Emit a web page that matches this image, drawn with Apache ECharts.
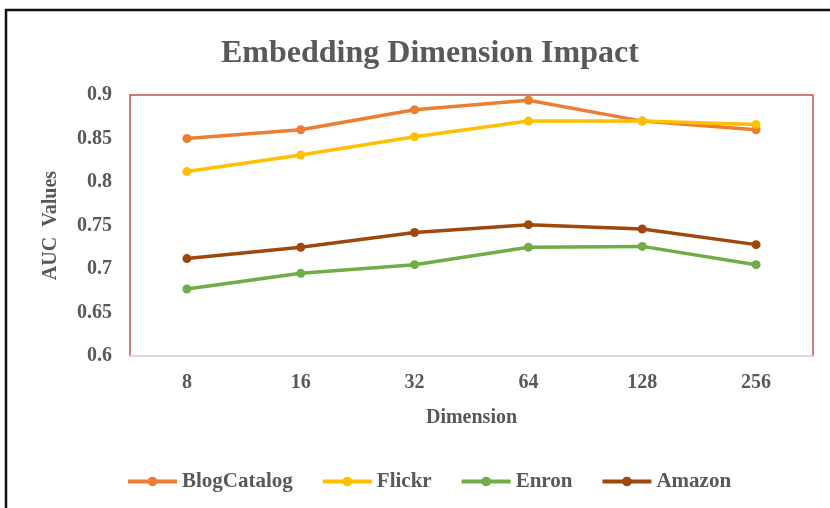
<!DOCTYPE html>
<html>
<head>
<meta charset="utf-8">
<script src="https://cdn.jsdelivr.net/npm/echarts@6/dist/echarts.min.js"></script>
<style>
  html, body { margin: 0; padding: 0; background: #ffffff; }
  #chart { width: 830px; height: 508px; }
</style>
</head>
<body>
<div id="chart"></div>
<script>
// Embedding dimensions tested (x axis categories)
const dimensions = ['8', '16', '32', '64', '128', '256'];

// AUC per dataset for each dimension
const blogCatalog = [0.850, 0.860, 0.883, 0.894, 0.870, 0.860];
const flickr      = [0.812, 0.831, 0.852, 0.870, 0.870, 0.866];
const enron       = [0.677, 0.695, 0.705, 0.725, 0.726, 0.705];
const amazon      = [0.712, 0.725, 0.742, 0.751, 0.746, 0.728];

const seriesNames  = ['BlogCatalog', 'Flickr', 'Enron', 'Amazon'];
const seriesData   = [blogCatalog, flickr, enron, amazon];
const seriesColors = ['#ED7D31', '#FFC000', '#70AD47', '#9E480E'];

const serif = '"Liberation Serif", "Times New Roman", "DejaVu Serif", serif';
const textGray = '#595959';

const chart = echarts.init(document.getElementById('chart'), null, { renderer: 'canvas' });

chart.setOption({
  backgroundColor: '#ffffff',
  animation: false,
  title: {
    text: 'Embedding Dimension Impact',
    left: 216,
    top: 33,
    textStyle: { fontFamily: serif, fontWeight: 'bold', fontSize: 32, color: textGray }
  },
  graphic: [{
    type: 'rect',
    shape: { x: 6, y: 10, width: 900, height: 600 },
    style: { fill: null, stroke: '#111111', lineWidth: 2.5 },
    silent: true,
    z: 100
  }],
  legend: {
    top: 466,
    left: 121,
    itemWidth: 49,
    itemHeight: 12,
    itemGap: 28,
    lineStyle: { width: 4 },
    textStyle: { fontFamily: serif, fontWeight: 'bold', fontSize: 21, color: textGray },
    data: seriesNames
  },
  grid: {
    left: 130, right: 17, top: 95, bottom: 152,
    show: true,
    borderColor: '#C0504D',
    borderWidth: 1.5,
    backgroundColor: 'transparent'
  },
  xAxis: {
    type: 'category',
    data: dimensions,
    boundaryGap: true,
    name: 'Dimension',
    nameLocation: 'middle',
    nameGap: 52,
    nameTextStyle: { fontFamily: serif, fontWeight: 'bold', fontSize: 20, color: textGray, verticalAlign: 'top' },
    axisLine: { show: true, lineStyle: { color: '#D9D9D9', width: 2 } },
    axisTick: { show: false },
    axisLabel: { fontFamily: serif, fontWeight: 'bold', fontSize: 20, color: textGray, margin: 17 },
    splitLine: { show: false }
  },
  yAxis: {
    type: 'value',
    min: 0.6,
    max: 0.9,
    interval: 0.05,
    name: 'AUC  Values',
    nameLocation: 'middle',
    nameGap: 69,
    nameRotate: 90,
    nameTextStyle: { fontFamily: serif, fontWeight: 'bold', fontSize: 20, color: textGray },
    axisLine: { show: false },
    axisTick: { show: false },
    axisLabel: {
      fontFamily: serif, fontWeight: 'bold', fontSize: 20, color: textGray, margin: 18,
      formatter: v => String(+v.toFixed(2))
    },
    splitLine: { show: false }
  },
  series: seriesNames.map((name, i) => ({
    name: name,
    type: 'line',
    data: seriesData[i],
    symbol: 'circle',
    symbolSize: 9,
    lineStyle: { width: 3.5, color: seriesColors[i] },
    itemStyle: { color: seriesColors[i] },
    z: 3 + i
  }))
});
</script>
</body>
</html>
